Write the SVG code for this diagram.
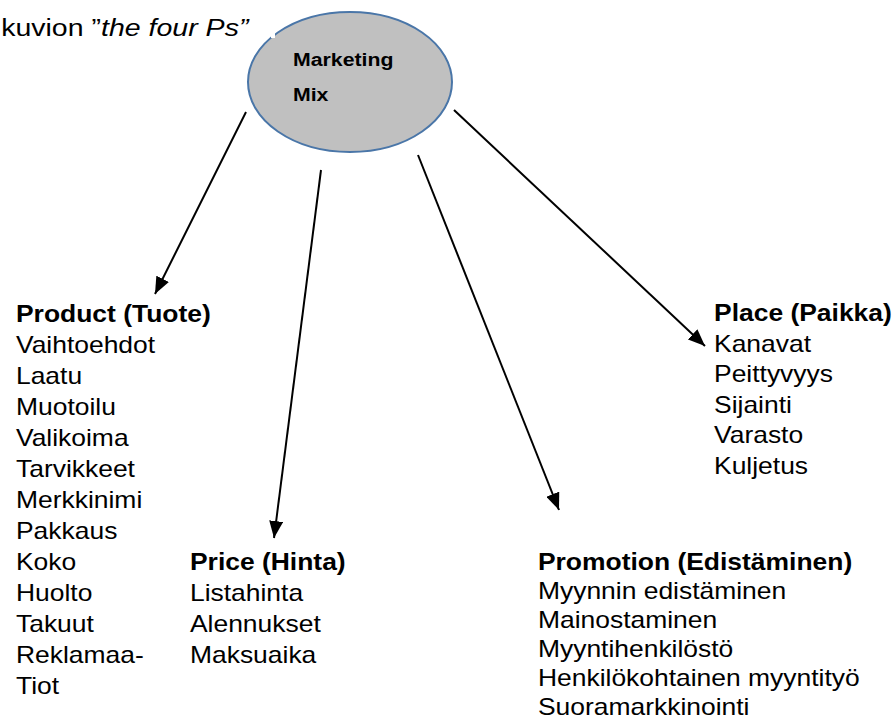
<svg xmlns="http://www.w3.org/2000/svg" width="895" height="722" viewBox="0 0 895 722">
<defs>
<marker id="ah" markerUnits="userSpaceOnUse" markerWidth="17" markerHeight="14" refX="17" refY="7" orient="auto">
<path d="M0,0 L17,7 L0,14 z" fill="#000"/>
</marker>
<style>
.t{font-family:"Liberation Sans",Arial,sans-serif;font-size:23px;fill:#000}
.b{font-weight:bold}
.m{font-family:"Liberation Sans",Arial,sans-serif;font-size:18.5px;font-weight:bold;fill:#000}
.c{stroke:#000;stroke-width:2;fill:none;marker-end:url(#ah)}
</style>
</defs>
<rect width="895" height="722" fill="#fff"/>
<g id="title" transform="scale(1.15,1)">
<text class="t" x="216" y="36" text-anchor="end" style="font-size:24.8px">kuvion ”<tspan font-style="italic">the four Ps”</tspan></text>
</g>
<g id="connectors">
<line class="c" x1="246" y1="112" x2="155" y2="294"/>
<line class="c" x1="321" y1="170" x2="274" y2="538"/>
<line class="c" x1="418" y1="155" x2="559" y2="510"/>
<line class="c" x1="454" y1="110" x2="705" y2="346"/>
</g>
<g id="marketing-mix">
<ellipse cx="350" cy="82" rx="102" ry="70" fill="#c0c0c0" stroke="#4a76a8" stroke-width="2"/>
<rect x="271" y="33" width="4" height="5" fill="#fff"/>
<g transform="scale(1.15,1)">
<text class="m" x="254.8" y="66">Marketing</text>
<text class="m" x="254.8" y="101">Mix</text>
</g>
</g>
<g id="product" transform="scale(1.15,1)">
<text class="t b" x="13.9" y="322">Product (Tuote)</text>
<text class="t" x="13.9" y="353">Vaihtoehdot</text>
<text class="t" x="13.9" y="384">Laatu</text>
<text class="t" x="13.9" y="415">Muotoilu</text>
<text class="t" x="13.9" y="446">Valikoima</text>
<text class="t" x="13.9" y="477">Tarvikkeet</text>
<text class="t" x="13.9" y="508">Merkkinimi</text>
<text class="t" x="13.9" y="539">Pakkaus</text>
<text class="t" x="13.9" y="570">Koko</text>
<text class="t" x="13.9" y="601">Huolto</text>
<text class="t" x="13.9" y="632">Takuut</text>
<text class="t" x="13.9" y="663">Reklamaa-</text>
<text class="t" x="13.9" y="694">Tiot</text>
</g>
<g id="price" transform="scale(1.15,1)">
<text class="t b" x="165.2" y="570">Price (Hinta)</text>
<text class="t" x="165.2" y="601">Listahinta</text>
<text class="t" x="165.2" y="632">Alennukset</text>
<text class="t" x="165.2" y="663">Maksuaika</text>
</g>
<g id="promotion" transform="scale(1.15,1)">
<text class="t b" x="467.8" y="570">Promotion (Edistäminen)</text>
<text class="t" x="467.8" y="599">Myynnin edistäminen</text>
<text class="t" x="467.8" y="628">Mainostaminen</text>
<text class="t" x="467.8" y="657">Myyntihenkilöstö</text>
<text class="t" x="467.8" y="686">Henkilökohtainen myyntityö</text>
<text class="t" x="467.8" y="715">Suoramarkkinointi</text>
</g>
<g id="place" transform="scale(1.15,1)">
<text class="t b" x="620.9" y="321">Place (Paikka)</text>
<text class="t" x="620.9" y="352">Kanavat</text>
<text class="t" x="620.9" y="382">Peittyvyys</text>
<text class="t" x="620.9" y="413">Sijainti</text>
<text class="t" x="620.9" y="443">Varasto</text>
<text class="t" x="620.9" y="474">Kuljetus</text>
</g>
</svg>
